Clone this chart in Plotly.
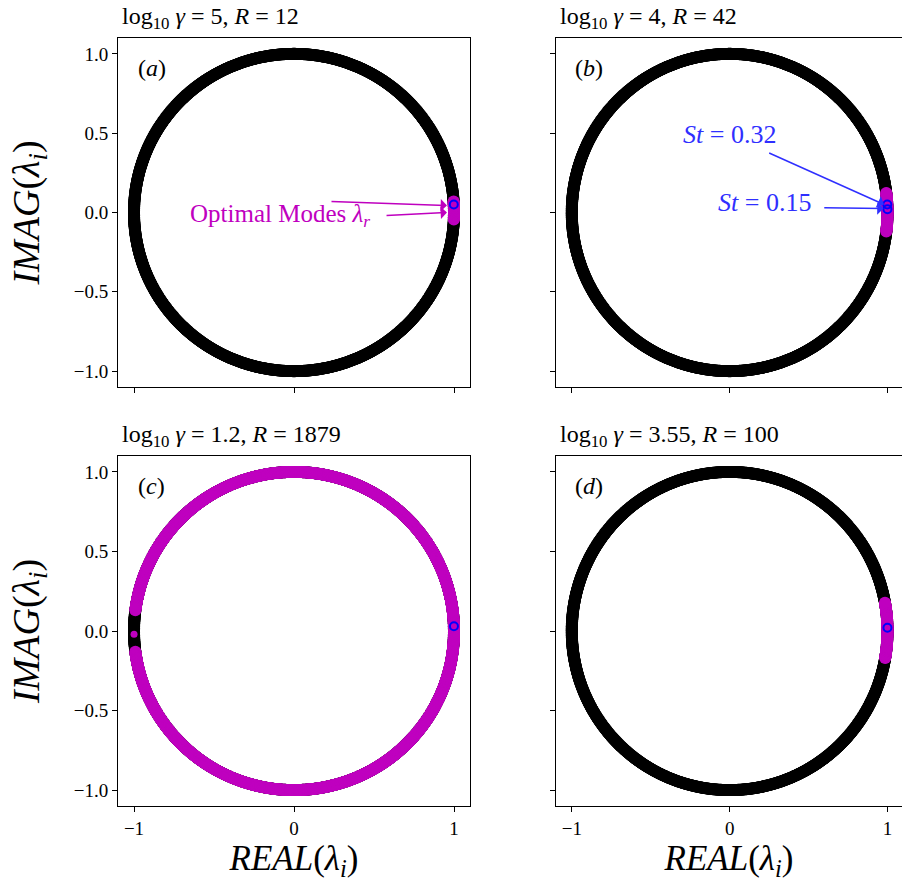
import numpy as np
import plotly.graph_objects as go

# ---------------- data ----------------
panel_keys = ["a", "b", "c", "d"]
panel_titles = [
    "log<sub>10</sub> <i>γ</i> = 5, <i>R</i> = 12",
    "log<sub>10</sub> <i>γ</i> = 4, <i>R</i> = 42",
    "log<sub>10</sub> <i>γ</i> = 1.2, <i>R</i> = 1879",
    "log<sub>10</sub> <i>γ</i> = 3.55, <i>R</i> = 100",
]
# phase-angle extents (degrees) of the eigenvalue rings (all |λ| = 1)
ring_arcs = {"a": [(0, 360)], "b": [(0, 360)], "c": [(0, 360)], "d": [(0, 360)]}
# phase-angle extents (degrees) of the optimal modes (magenta)
optimal_arcs = {
    "a": [(-2.5, 4.0)],
    "b": [(-6.9, 7.2)],
    "c": [(7.5, 172.5), (187.5, 352.5), (-7.5, 7.5)],
    "d": [(-9.8, 10.2)],
}
optimal_dots = {"a": [], "b": [], "c": [181.2], "d": []}
# phase angles (degrees) of the highlighted (blue) modes
blue_modes = {"a": [2.9], "b": [2.9, 1.2], "c": [1.7], "d": [1.2]}

x_ticks = [-1, 0, 1]
x_ticktext = ["−1", "0", "1"]
y_ticks = [1.0, 0.5, 0.0, -0.5, -1.0]
y_ticktext = ["1.0", "0.5", "0.0", "−0.5", "−1.0"]

# ---------------- style ----------------
BLACK = "#000000"
MAG = "#bf00bf"
BLUE = "#0000ff"
ANN_BLUE = "#2f2fff"
FONT = "Liberation Serif"
W, H = 902, 882
RING = 12

# domains in pixels: (x0, x1, ytop, ybottom)
dom_px = {
    "a": (118, 470, 38, 387),
    "b": (556, 902, 38, 387),
    "c": (118, 470, 456, 806),
    "d": (556, 902, 456, 806),
}
xranges = {"a": [-1.1, 1.1], "b": [-1.1, 1.092], "c": [-1.1, 1.1], "d": [-1.1, 1.092]}


def arc_points(arcs, step=0.25):
    xs, ys = [], []
    for a0, a1 in arcs:
        th = np.deg2rad(np.arange(a0, a1 + 1e-9, step))
        xs.append(np.cos(th))
        ys.append(np.sin(th))
    return np.concatenate(xs), np.concatenate(ys)


def ang_points(angs):
    th = np.deg2rad(np.array(angs, dtype=float))
    return np.cos(th), np.sin(th)


fig = go.Figure()
layout = {}
annotations = []

for i, k in enumerate(panel_keys):
    n = "" if i == 0 else str(i + 1)
    xa, ya = "x" + n, "y" + n
    x0, x1, yt, yb = dom_px[k]
    xdom = [x0 / W, min(x1 / W, 1.0)]
    ydom = [1 - yb / H, 1 - yt / H]

    rx, ry = arc_points(ring_arcs[k])
    fig.add_trace(go.Scatter(x=rx, y=ry, mode="markers", xaxis=xa, yaxis=ya,
                             marker=dict(color=BLACK, size=RING, line=dict(width=0)),
                             hoverinfo="skip", showlegend=False))
    ox, oy = arc_points(optimal_arcs[k])
    fig.add_trace(go.Scatter(x=ox, y=oy, mode="markers", xaxis=xa, yaxis=ya,
                             marker=dict(color=MAG, size=RING, line=dict(width=0)),
                             hoverinfo="skip", showlegend=False))
    if optimal_dots[k]:
        dx, dy = ang_points(optimal_dots[k])
        fig.add_trace(go.Scatter(x=dx, y=dy, mode="markers", xaxis=xa, yaxis=ya,
                                 marker=dict(color=MAG, size=7, line=dict(width=0)),
                                 hoverinfo="skip", showlegend=False))
    bx, by = ang_points(blue_modes[k])
    fig.add_trace(go.Scatter(x=bx, y=by, mode="markers", xaxis=xa, yaxis=ya,
                             marker=dict(color=BLUE, size=8, symbol="circle-open",
                                         line=dict(width=2, color=BLUE)),
                             hoverinfo="skip", showlegend=False))

    left = k in ("a", "c")
    bottom = k in ("c", "d")
    common = dict(showgrid=False, zeroline=False, showline=True, linecolor="black",
                  linewidth=1, mirror=True, ticks="outside", ticklen=5, tickwidth=1,
                  tickcolor="black", tickfont=dict(family=FONT, size=19, color="black"))
    xd = dict(domain=xdom, range=xranges[k], anchor=ya,
              tickvals=x_ticks, ticktext=x_ticktext,
              showticklabels=bottom, **common)
    if bottom:
        xd["title"] = dict(text="<i>REAL</i>(<i>λ<sub>i</sub></i>)",
                           font=dict(family=FONT, size=35, color="black"), standoff=10)
    yd = dict(domain=ydom, range=[-1.1, 1.1], anchor=xa,
              tickvals=y_ticks, ticktext=y_ticktext,
              showticklabels=left, **common)
    if left:
        yd["title"] = dict(text="<i>IMAG</i>(<i>λ<sub>i</sub></i>)",
                           font=dict(family=FONT, size=38, color="black"), standoff=22)
    layout["xaxis" + n] = xd
    layout["yaxis" + n] = yd

    # panel title
    annotations.append(dict(text=panel_titles[i], xref="paper", yref="paper",
                            x=(x0 + 2) / W, y=1 - (yt - 20) / H, xanchor="left",
                            yanchor="middle", showarrow=False,
                            font=dict(family=FONT, size=24, color="black")))
    # panel letter
    annotations.append(dict(text="(<i>%s</i>)" % k, xref=xa, yref=ya,
                            x=-0.89, y=0.91, showarrow=False,
                            font=dict(family=FONT, size=24, color="black")))

# panel (a) annotations
annotations.append(dict(text="Optimal Modes <i>λ<sub>r</sub></i>", xref="x", yref="y",
                        x=-0.09, y=-0.02, showarrow=False,
                        font=dict(family=FONT, size=25, color=MAG)))
for (tx, ty), (hx, hy) in [((0.225, 0.069), (0.956, 0.044)),
                           ((0.569, -0.019), (0.956, 0.0))]:
    annotations.append(dict(text="", xref="x", yref="y", axref="x", ayref="y",
                            x=hx, y=hy, ax=tx, ay=ty, showarrow=True,
                            arrowhead=1, arrowsize=1.4, arrowwidth=1.5,
                            arrowcolor=MAG))
# panel (b) annotations
annotations.append(dict(text="<i>St</i> = 0.32", xref="x2", yref="y2",
                        x=0.0, y=0.49, showarrow=False,
                        font=dict(family=FONT, size=26, color=ANN_BLUE)))
annotations.append(dict(text="<i>St</i> = 0.15", xref="x2", yref="y2",
                        x=0.22, y=0.06, showarrow=False,
                        font=dict(family=FONT, size=26, color=ANN_BLUE)))
for (tx, ty), (hx, hy) in [((0.241, 0.379), (0.978, 0.05)),
                           ((0.59, 0.03), (0.975, 0.025))]:
    annotations.append(dict(text="", xref="x2", yref="y2", axref="x2", ayref="y2",
                            x=hx, y=hy, ax=tx, ay=ty, showarrow=True,
                            arrowhead=1, arrowsize=1.4, arrowwidth=1.5,
                            arrowcolor=ANN_BLUE))

fig.update_layout(width=W, height=H, margin=dict(l=0, r=0, t=0, b=0),
                  plot_bgcolor="white", paper_bgcolor="white",
                  annotations=annotations, **layout)

fig.write_html("out.html")
